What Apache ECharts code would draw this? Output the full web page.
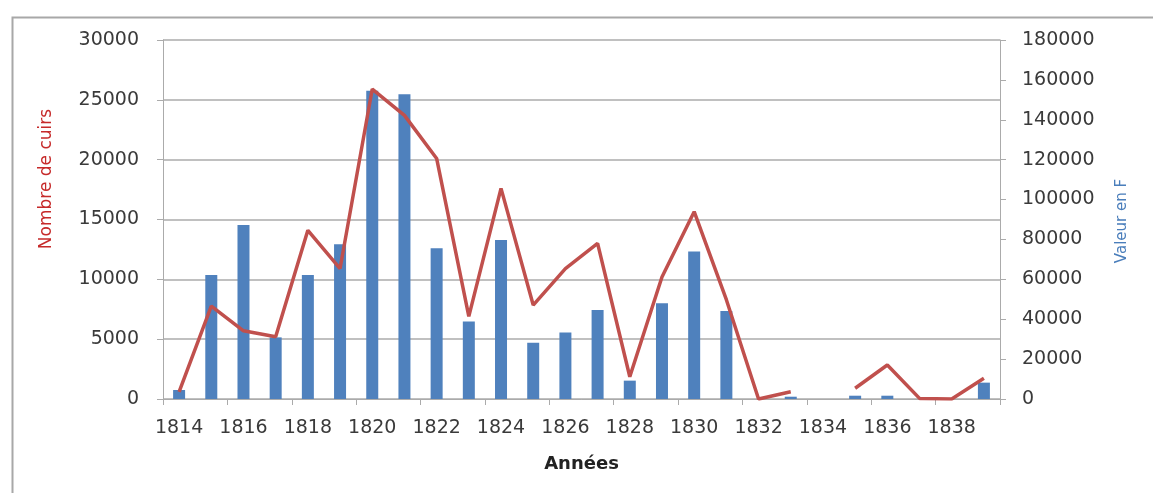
<!DOCTYPE html>
<html>
<head>
<meta charset="utf-8">
<script src="https://cdn.jsdelivr.net/npm/echarts@6/dist/echarts.min.js"></script>
<style>
html,body{margin:0;padding:0;background:#fff;}
#chart{width:1153px;height:493px;}
</style>
</head>
<body>
<div id="chart"></div>
<script>
var years = ['1814','1815','1816','1817','1818','1819','1820','1821','1822','1823','1824','1825','1826','1827','1828','1829','1830','1831','1832','1833','1834','1835','1836','1837','1838','1839'];
var valeurEnF = [4500, 62200, 87200, 30900, 62200, 77600, 154600, 152800, 75600, 38800, 79700, 28200, 33400, 44600, 9200, 48000, 73900, 44100, 0, 1150, 0, 1650, 1650, 0, 0, 8200];
var nombreDeCuirs = [600, 7770, 5700, 5200, 14100, 10900, 25900, 23700, 20100, 6900, 17600, 7850, 10900, 13000, 1860, 10200, 15650, 8300, 0, 610, null, 900, 2840, 50, 0, 1730];
var leftTicks = {min: 0, max: 30000, interval: 5000};
var rightTicks = {min: 0, max: 180000, interval: 20000};

var chart = echarts.init(document.getElementById('chart'), null, {renderer: 'canvas'});
var font = 'DejaVu Sans';
var labelColor = '#3a3a3a';
var gridColor = '#ababab';
function plain(v) { return String(v); }
chart.setOption({
  animation: false,
  backgroundColor: '#fff',
  grid: {left: 163, right: 153, top: 40, bottom: 94, containLabel: false},
  graphic: [
    {type: 'rect', left: 10, top: 15, shape: {width: 1160, height: 490}, style: {fill: 'none', stroke: '#a8a8a8', lineWidth: 2}, silent: true, z: -10},
    {type: 'text', x: 47, y: 179, rotation: Math.PI / 2, style: {text: 'Nombre de cuirs', fill: '#c62a2a', font: '17px "DejaVu Sans"', align: 'center', verticalAlign: 'middle'}},
    {type: 'text', x: 1122, y: 221, rotation: Math.PI / 2, style: {text: 'Valeur en F', fill: '#4a7ebb', font: '15px "DejaVu Sans"', align: 'center', verticalAlign: 'middle'}}
  ],
  xAxis: {
    type: 'category',
    data: years,
    boundaryGap: true,
    name: 'Années',
    nameLocation: 'middle',
    nameGap: 56,
    nameTextStyle: {fontFamily: font, fontSize: 18, fontWeight: 'bold', color: '#222'},
    axisLine: {show: true, lineStyle: {color: gridColor, width: 1}},
    axisTick: {show: true, interval: 1, length: 6, lineStyle: {color: gridColor}},
    axisLabel: {interval: 1, fontFamily: font, fontSize: 19, color: labelColor, margin: 20},
    splitLine: {show: false}
  },
  yAxis: [
    {
      type: 'value',
      position: 'left',
      min: leftTicks.min, max: leftTicks.max, interval: leftTicks.interval,
      axisLine: {show: true, lineStyle: {color: gridColor, width: 1}},
      axisTick: {show: true, length: 6, lineStyle: {color: gridColor}},
      axisLabel: {fontFamily: font, fontSize: 19, color: labelColor, margin: 24, formatter: plain},
      splitLine: {show: true, lineStyle: {color: gridColor, width: 1.5}}
    },
    {
      type: 'value',
      position: 'right',
      min: rightTicks.min, max: rightTicks.max, interval: rightTicks.interval,
      axisLine: {show: true, lineStyle: {color: gridColor, width: 1}},
      axisTick: {show: true, length: 6, lineStyle: {color: gridColor}},
      axisLabel: {fontFamily: font, fontSize: 19, color: labelColor, margin: 22, formatter: plain},
      splitLine: {show: false}
    }
  ],
  series: [
    {
      name: 'Valeur en F',
      type: 'bar',
      yAxisIndex: 1,
      data: valeurEnF,
      barWidth: 12,
      itemStyle: {color: '#4f81bd'},
      z: 2
    },
    {
      name: 'Nombre de cuirs',
      type: 'line',
      yAxisIndex: 0,
      data: nombreDeCuirs,
      symbol: 'none',
      connectNulls: false,
      lineStyle: {color: '#c0504d', width: 3.5},
      z: 3
    }
  ]
});
</script>
</body>
</html>
